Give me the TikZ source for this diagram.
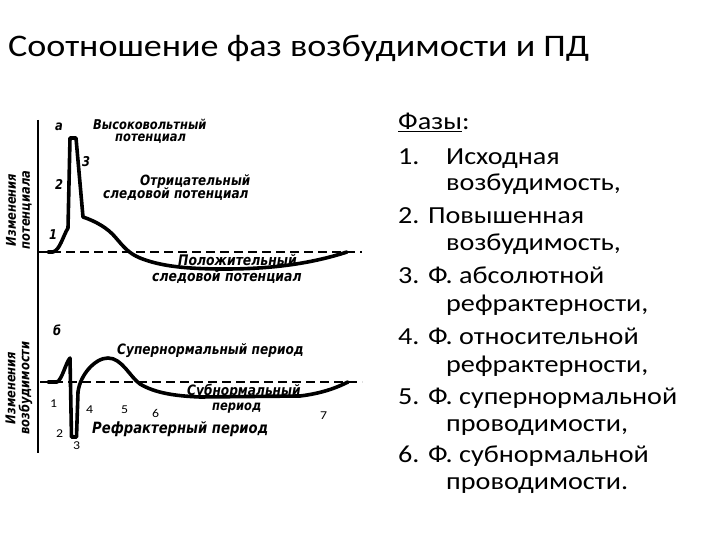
\documentclass[tikz,border=0pt]{standalone}
\usepackage{fontspec}
\setmainfont[FakeStretch=1.15]{Carlito}
\newfontfamily\figfont[FakeStretch=0.85]{DejaVu Sans}
\tikzset{
  curve/.style={line width=3.6pt, line join=round, line cap=round},
  baseline dash/.style={line width=2.6pt, dash pattern=on 9pt off 5pt},
  axisline/.style={line width=2.4pt},
  lbl/.style={anchor=base west, inner sep=0pt, font=\figfont\bfseries\itshape\fontsize{#1}{#1}\selectfont},
  lbl/.default=13.5,
  num/.style={anchor=base west, inner sep=0pt, font=\fontsize{12}{13}\selectfont},
  rotl/.style={rotate=90, inner sep=0pt, align=center, font=\figfont\bfseries\itshape\fontsize{13.5}{14}\selectfont},
  item/.style={anchor=base west, inner sep=0pt, font=\fontsize{24.5}{26}\selectfont},
}
\begin{document}
\begin{tikzpicture}[x=1pt,y=-1pt]
\useasboundingbox (0,0) rectangle (720,540);
% title
\node[anchor=base west, inner sep=0pt, font=\fontsize{31.4}{36}\selectfont] (title) at (8,57) {Соотношение фаз возбудимости и ПД};
% right list
\node[item] (f0) at (398,130) {\underline{Фазы}:};
\node[item] (f1a) at (398,165) {1.};
\node[item] (f1b) at (446,165) {Исходная};
\node[item] (f1c) at (446,191) {возбудимость,};
\node[item] (f2a) at (398,223) {2. Повышенная};
\node[item] (f2b) at (446,251) {возбудимость,};
\node[item] (f3a) at (398,283) {3. Ф. абсолютной};
\node[item] (f3b) at (446,311) {рефрактерности,};
\node[item] (f4a) at (398,344) {4. Ф. относительной};
\node[item] (f4b) at (446,372) {рефрактерности,};
\node[item] (f5a) at (398,404) {5. Ф. супернормальной};
\node[item] (f5b) at (446,431) {проводимости,};
\node[item] (f6a) at (398,462) {6. Ф. субнормальной};
\node[item] (f6b) at (446,489) {проводимости.};
% axis
\coordinate (axt) at (38,120);
\coordinate (axb) at (38,453);
\draw[axisline] (axt) -- (axb);
% baselines
\coordinate (b1l) at (38,252);
\coordinate (b1r) at (362,252);
\coordinate (b2l) at (40,382);
\coordinate (b2r) at (362,382);
\draw[baseline dash] (b1l) -- (b1r);
\draw[baseline dash] (b2l) -- (b2r);
% upper curve (action potential)
\draw[curve] (48,252) -- (53,252) .. controls (60,250) and (63,236) .. (68,228) -- (70,138) -- (76,138) -- (83,217)
  .. controls (95,221) and (108,228) .. (116,238) .. controls (123,246) and (128,253) .. (140,258)
  .. controls (160,266) and (185,269) .. (225,269) .. controls (270,269) and (310,264) .. (347,252);
% lower curve (excitability)
\draw[curve] (48,382) -- (57,382) .. controls (62,380) and (66,362) .. (70,358) -- (71.5,437) -- (76.5,437) -- (78,392)
  .. controls (80,375) and (95,358) .. (108,358) .. controls (122,358) and (130,377) .. (140,384)
  .. controls (155,393) and (175,396) .. (200,397) -- (300,396) .. controls (325,393) and (340,386) .. (348,382);
% upper labels
\node[lbl] (la) at (55,131) {а};
\node[lbl] (lvv) at (93,130) {Высоковольтный};
\node[lbl] (lvv2) at (115,142) {потенциал};
\node[lbl] (l3) at (82,167) {3};
\node[lbl] (l2) at (55,190) {2};
\node[lbl=14.1] (lneg) at (140,186) {Отрицательный};
\node[lbl=14.2] (lneg2) at (103,199) {следовой потенциал};
\node[lbl] (l1) at (49,240) {1};
\node[lbl=14.6] (lpos) at (178,265) {Положительный};
\node[lbl=14.6] (lpos2) at (152,281) {следовой потенциал};
\node[rotl] (rot1) at (19,210) {Изменения\\потенциала};
% lower labels
\node[lbl] (lb) at (53,335) {б};
\node[lbl=14.3] (lsup) at (117,354) {Супернормальный период};
\node[lbl=14.3] (lsub) at (187,395) {Субнормальный};
\node[lbl] (lsub2) at (212,410) {период};
\node[lbl=15.5] (lref) at (92,433) {Рефрактерный период};
\node[rotl] (rot2) at (19,388) {Изменения\\возбудимости};
% numbers
\node[num] (n1) at (50,407) {1};
\node[num] (n2) at (56,437) {2};
\node[num] (n3) at (73,449) {3};
\node[num] (n4) at (86,413) {4};
\node[num] (n5) at (121,413) {5};
\node[num] (n6) at (152,417) {6};
\node[num] (n7) at (320,419) {7};
\end{tikzpicture}
\end{document}
